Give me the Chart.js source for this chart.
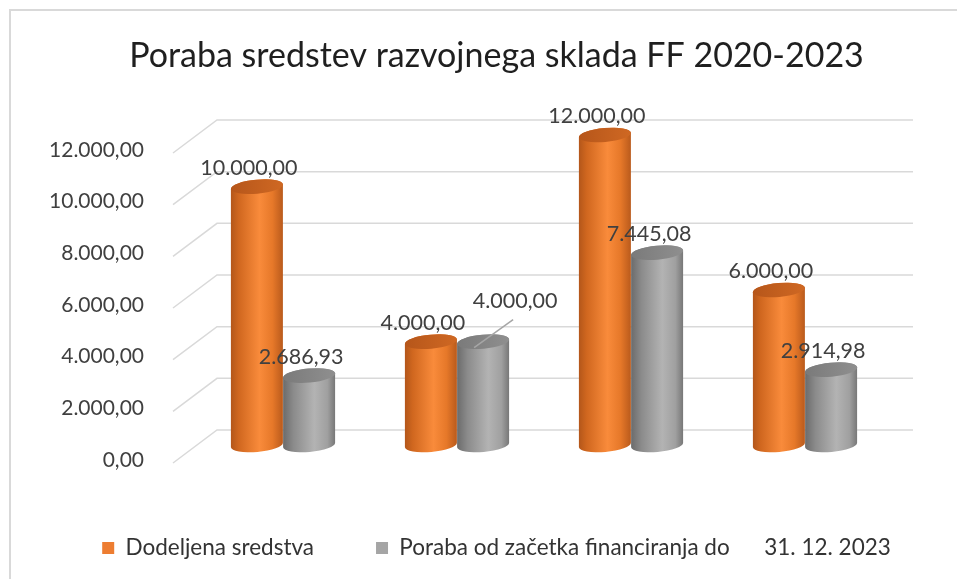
<!DOCTYPE html>
<html><head><meta charset="utf-8">
<script src="https://cdn.jsdelivr.net/npm/chart.js@4.4.1/dist/chart.umd.min.js"></script>
<style>html,body{margin:0;padding:0;background:#fff;overflow:hidden}canvas{display:block}</style>
</head><body>
<canvas id="c" width="957" height="579"></canvas>
<script>
// ---- data ----
const categories = ['2020', '2021', '2022', '2023'];
const allocated = [10000, 4000, 12000, 6000];
const spent = [2686.93, 4000, 7445.08, 2914.98];
const seriesNames = ['Dodeljena sredstva', 'Poraba od začetka financiranja do      31. 12. 2023'];
const yTickValues = [0, 2000, 4000, 6000, 8000, 10000, 12000];
const chartTitle = 'Poraba sredstev razvojnega sklada FF 2020-2023';

// ---- style ----
const FONT = 'Lato';
const TXT = '#404040';
const GRID = '#d9d9d9';
const BACK = {dx: 21, dy: -15};   // back wall offset from bar plane
const FRONT = {dx: -23, dy: 18};  // front edge offset from bar plane
const labelOffsets = {'1-1': {dx: 32, dy: -41, leader: true}};
const cylStyles = [
  {stops: [[0, '#b3561a'], [0.15, '#d0671f'], [0.55, '#f98b3b'], [0.8, '#e67829'], [1, '#b95a1c']], top: ['#b6561a', '#cf6823']},
  {stops: [[0, '#6b6b6b'], [0.2, '#8b8b8b'], [0.6, '#b3b3b3'], [0.85, '#a0a0a0'], [1, '#777777']], top: ['#7a7a7a', '#8f8f8f']}
];

function fmt(v) {
  let [i, d] = Math.abs(v).toFixed(2).split('.');
  i = i.replace(/\B(?=(\d{3})+(?!\d))/g, '.');
  return (v < 0 ? '-' : '') + i + ',' + d;
}

function drawCyl(ctx, x, top, base, w, st) {
  const rx = w / 2, ry = 7, rot = -0.09;
  const g = ctx.createLinearGradient(x - rx, 0, x + rx, 0);
  st.stops.forEach(s => g.addColorStop(s[0], s[1]));
  ctx.beginPath();
  ctx.ellipse(x, top, rx, ry, rot, Math.PI, 2 * Math.PI, false);
  ctx.ellipse(x, base, rx, ry, rot, 0, Math.PI, false);
  ctx.closePath();
  ctx.fillStyle = g;
  ctx.fill();
  const tg = ctx.createLinearGradient(x - rx, 0, x + rx, 0);
  tg.addColorStop(0, st.top[0]); tg.addColorStop(1, st.top[1]);
  ctx.beginPath();
  ctx.ellipse(x, top, rx, ry, rot, 0, 2 * Math.PI);
  ctx.fillStyle = tg;
  ctx.fill();
}

const cylPlugin = {
  id: 'cyl',
  beforeDraw(chart) {
    const ctx = chart.ctx;
    ctx.save();
    ctx.strokeStyle = GRID; ctx.lineWidth = 2;
    ctx.beginPath(); ctx.moveTo(10, chart.height); ctx.lineTo(10, 10); ctx.lineTo(chart.width, 10); ctx.stroke();
    ctx.restore();
  },
  beforeDatasetsDraw(chart) {
    const ctx = chart.ctx, ca = chart.chartArea, ys = chart.scales.y;
    ctx.save();
    ctx.strokeStyle = GRID; ctx.lineWidth = 1.5;
    yTickValues.forEach(v => {
      const p = ys.getPixelForValue(v);
      ctx.beginPath();
      ctx.moveTo(ca.left + FRONT.dx, p + FRONT.dy);
      ctx.lineTo(ca.left + BACK.dx, p + BACK.dy);
      ctx.lineTo(ca.right + BACK.dx, p + BACK.dy);
      ctx.stroke();
    });
    chart.data.datasets.forEach((ds, di) => {
      const meta = chart.getDatasetMeta(di);
      meta.data.forEach(el => {
        const p = el.getProps(['x', 'y', 'base', 'width'], true);
        drawCyl(ctx, p.x, p.y, p.base, p.width, cylStyles[di]);
      });
    });
    ctx.restore();
  },
  beforeDatasetDraw() { return false; },
  afterDatasetsDraw(chart) {
    const ctx = chart.ctx;
    ctx.save();
    ctx.font = '21.5px ' + FONT;
    ctx.fillStyle = TXT;
    ctx.textAlign = 'center';
    ctx.textBaseline = 'middle';
    chart.data.datasets.forEach((ds, di) => {
      const meta = chart.getDatasetMeta(di);
      meta.data.forEach((el, i) => {
        const p = el.getProps(['x', 'y'], true);
        const o = labelOffsets[di + '-' + i] || {dx: -8, dy: -19};
        if (o.leader) {
          ctx.strokeStyle = '#a6a6a6'; ctx.lineWidth = 1.5;
          ctx.beginPath(); ctx.moveTo(p.x + o.dx - 2, p.y + o.dy + 19); ctx.lineTo(p.x - 9, p.y + 6); ctx.stroke();
        }
        ctx.fillText(fmt(ds.data[i]), p.x + o.dx, p.y + o.dy);
      });
    });
    ctx.restore();
  }
};

const chart = new Chart(document.getElementById('c'), {
  type: 'bar',
  data: {
    labels: categories,
    datasets: [
      {label: seriesNames[0], data: allocated, backgroundColor: '#ED7D31', borderWidth: 0},
      {label: seriesNames[1], data: spent, backgroundColor: '#A5A5A5', borderWidth: 0}
    ]
  },
  options: {
    responsive: false,
    animation: false,
    devicePixelRatio: 1,
    layout: {padding: {left: 36, right: 0, top: 0, bottom: 9.75}},
    datasets: {bar: {categoryPercentage: 0.6, barPercentage: 1.0}},
    scales: {
      x: {
        grid: {display: false}, border: {display: false},
        ticks: {color: TXT, font: {family: FONT, size: 21.5}, padding: 36, labelOffset: -21},
        afterFit(s) { s.height = 29.75; }
      },
      y: {
        min: 0, max: 12000,
        grid: {display: false}, border: {display: false},
        afterBuildTicks(s) { s.ticks = yTickValues.map(v => ({value: v})); },
        ticks: {color: TXT, font: {family: FONT, size: 21}, padding: 44, labelOffset: 15, callback: v => fmt(v)},
        afterFit(s) { s.width = 160; }
      },
      y2: {
        position: 'right', display: true,
        grid: {display: false}, border: {display: false}, ticks: {display: false},
        afterFit(s) { s.width = 65; }
      }
    },
    plugins: {
      tooltip: {enabled: false},
      title: {display: true, text: chartTitle, color: '#1f1f1f', font: {family: FONT, size: 34, weight: 'normal'}, padding: {top: 36, bottom: 58.2}},
      legend: {position: 'bottom', labels: {color: '#333333', font: {family: FONT, size: 22.5}, boxWidth: 12, boxHeight: 12, padding: 62}}
    }
  },
  plugins: [cylPlugin]
});
</script>
</body></html>
